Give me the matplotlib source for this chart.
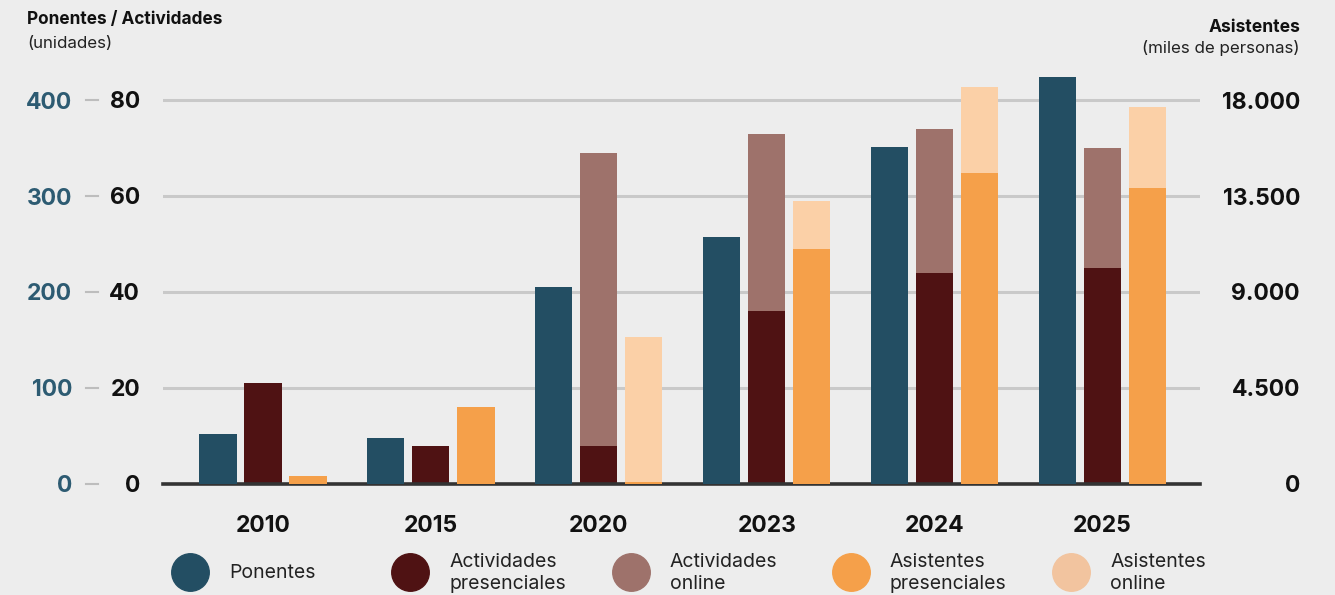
import matplotlib
matplotlib.use('Agg')
import matplotlib.pyplot as plt
from matplotlib.lines import Line2D
from matplotlib.ticker import FuncFormatter
import numpy as np

plt.rcParams['font.family'] = ['Inter', 'DejaVu Sans']

# data
years = ['2010', '2015', '2020', '2023', '2024', '2025']
ponentes = [52, 48, 205, 257, 351, 424]
act_presenciales = [21, 8, 8, 36, 44, 45]
act_online = [0, 0, 61, 37, 30, 25]
asist_presenciales = [380, 3600, 110, 11000, 14600, 13880]
asist_online = [0, 0, 6780, 2270, 4000, 3790]

c_pon = '#234e63'
c_apres = '#4f1213'
c_aonl = '#9e726b'
c_spres = '#f5a04a'
c_sonl = '#fbd0a7'
bg = '#ededed'

fig = plt.figure(figsize=(13.35, 5.95), dpi=100, facecolor=bg)
ax = fig.add_axes([163 / 1335, 1 - 484 / 595, 1037 / 1335, 424 / 595])
ax.set_facecolor(bg)
ax_p = ax.twinx()
ax_a = ax.twinx()

x = np.arange(len(years))
w = 0.222
off = 0.268

top = 424 / 4.8
ax.set_ylim(0, top)
ax_p.set_ylim(0, top * 5)
ax_a.set_ylim(0, top * 225)
for a in (ax, ax_p, ax_a):
    a.set_xlim(-0.595, 5.58)
    for s in a.spines.values():
        s.set_visible(False)
    a.patch.set_visible(False)

ax_p.bar(x - off, ponentes, w, color=c_pon, zorder=3)
ax.bar(x, act_presenciales, w, color=c_apres, zorder=3)
ax.bar(x, act_online, w, bottom=act_presenciales, color=c_aonl, zorder=3)
ax_a.bar(x + off, asist_presenciales, w, color=c_spres, zorder=3)
ax_a.bar(x + off, asist_online, w, bottom=asist_presenciales, color=c_sonl, zorder=3)

# grid + baseline
ax.set_yticks([0, 20, 40, 60, 80])
ax.yaxis.grid(True, color='#c9c9c9', linewidth=2.2)
ax.set_axisbelow(True)
ax.axhline(0, color='#333333', linewidth=2.6, zorder=5, clip_on=False)

tsize = 16.5
ax.tick_params(axis='y', length=0, pad=16.5, labelsize=tsize, labelcolor='#111111')
for t in ax.get_yticklabels():
    t.set_fontweight('bold')

ax_p.yaxis.tick_left()
ax_p.set_yticks([0, 100, 200, 300, 400])
ax_p.tick_params(axis='y', length=0, pad=65.5, labelsize=tsize, labelcolor='#2d5b72')
for t in ax_p.get_yticklabels():
    t.set_fontweight('bold')

ax_a.set_yticks([0, 4500, 9000, 13500, 18000])
ax_a.yaxis.set_major_formatter(FuncFormatter(lambda v, p: f'{int(v):,}'.replace(',', '.')))
ax_a.tick_params(axis='y', length=0, pad=72, labelsize=tsize, labelcolor='#111111')
for t in ax_a.get_yticklabels():
    t.set_fontweight('bold')
    t.set_horizontalalignment('right')

# small dashes between the two left scales
for v in [0, 20, 40, 60, 80]:
    ax.plot([-77 / 1037, -65 / 1037], [v, v], color='#bdbdbd', linewidth=1.5,
            transform=ax.get_yaxis_transform(), clip_on=False)

ax.set_xticks(x)
ax.set_xticklabels(years, fontsize=tsize, fontweight='bold', color='#111111')
ax.tick_params(axis='x', length=0, pad=22)
ax_p.tick_params(axis='x', labelbottom=False, bottom=False)
ax_a.tick_params(axis='x', labelbottom=False, bottom=False)

# axis titles
fig.text(27 / 1335, 1 - 20 / 595, 'Ponentes / Actividades', fontsize=12.4, fontweight='bold',
         ha='left', va='center', color='#111111')
fig.text(27 / 1335, 1 - 44 / 595, '(unidades)', fontsize=12.2, ha='left', va='center', color='#222222')
fig.text(1300 / 1335, 1 - 27 / 595, 'Asistentes', fontsize=12.6, fontweight='bold',
         ha='right', va='center', color='#111111')
fig.text(1300 / 1335, 1 - 48 / 595, '(miles de personas)', fontsize=12.2, ha='right', va='center',
         color='#222222')

# legend
leg_items = [(c_pon, 'Ponentes'), (c_apres, 'Actividades\npresenciales'),
             (c_aonl, 'Actividades\nonline'), (c_spres, 'Asistentes\npresenciales'),
             ('#f2c49f', 'Asistentes\nonline')]
for i, (c, lab) in enumerate(leg_items):
    cx = (190 + i * 220.3) / 1335
    cy = 1 - 572 / 595
    fig.add_artist(Line2D([cx], [cy], marker='o', markersize=27, color=c, linestyle='none',
                          transform=fig.transFigure))
    fig.text(cx + 39 / 1335, 1 - 573 / 595, lab, fontsize=14, ha='left', va='center',
             color='#222222', linespacing=1.32)

fig.savefig('out.png', dpi=100, facecolor=bg)
